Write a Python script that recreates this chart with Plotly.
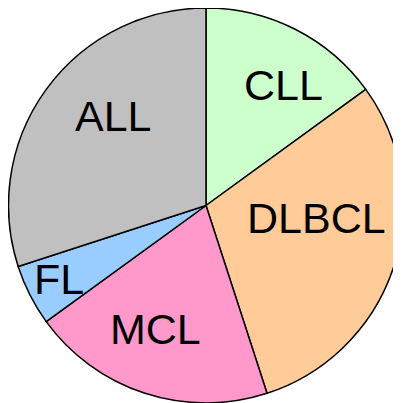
import plotly.graph_objects as go

labels = ["CLL", "DLBCL", "MCL", "FL", "ALL"]
values = [15, 30, 20, 5, 30]
colors = ["#ccffcc", "#ffcc99", "#ff99cc", "#99ccff", "#c0c0c0"]
# label anchor positions (paper coordinates)
label_x = [0.686, 0.769, 0.369, 0.128, 0.263]
label_y = [0.808, 0.480, 0.203, 0.328, 0.731]

fig = go.Figure(go.Pie(
    labels=labels, values=values, sort=False, direction="clockwise", rotation=0,
    marker=dict(colors=colors, line=dict(color="black", width=1.5)),
    textinfo="none",
    domain=dict(x=[0.0, 0.9875], y=[0.0199, 1.0]),
    showlegend=False, hoverinfo="label+value",
))
for lab, x, y in zip(labels, label_x, label_y):
    fig.add_annotation(x=x, y=y, xref="paper", yref="paper", text=lab,
                       showarrow=False, xanchor="center", yanchor="middle",
                       font=dict(family="Liberation Sans, Arial", size=43, color="black"))
fig.update_layout(width=401, height=403, margin=dict(l=0, r=0, t=0, b=0),
                  paper_bgcolor="white", plot_bgcolor="white")
fig.write_html("out.html")
